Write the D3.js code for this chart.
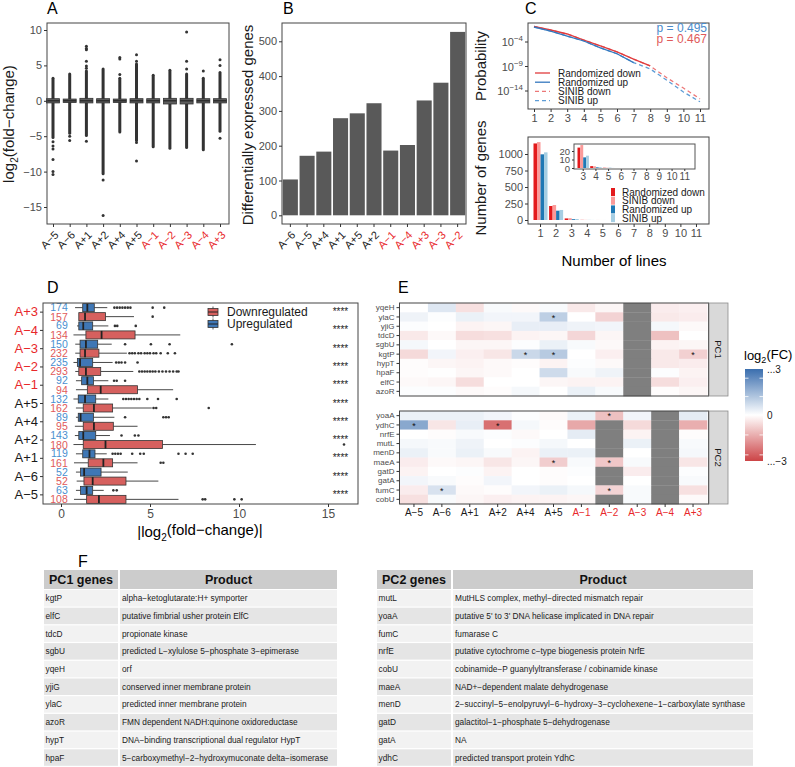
<!DOCTYPE html>
<html><head><meta charset="utf-8">
<script src="https://cdn.jsdelivr.net/npm/d3@7"></script>
<style>
body{margin:0;background:#fff}
svg{display:block}
</style></head><body>
<svg id="fig" width="795" height="767"></svg>
<script>
// ---------------- DATA ----------------
// Panel A
const catsA = ["A−5","A−6","A+1","A+2","A+4","A+5","A−1","A−2","A−3","A−4","A+3"];
const redCats = ["A−1","A−2","A−3","A−4","A+3"];
const aQ1 = [-0.3,-0.25,-0.3,-0.3,-0.25,-0.3,-0.3,-0.45,-0.45,-0.3,-0.3];
const aMed = [0,0,0,0,0,0,0,0,0,0,0];
const aQ3 = [0.3,0.25,0.35,0.3,0.25,0.3,0.3,0.35,0.35,0.3,0.3];
const aUpEnd = [3.2,3.8,4.2,4.5,3.2,5.2,3.6,4.3,3.8,3.2,4.0];
const aDownEnd = [-5.2,-4.6,-4.9,-10.3,-4.4,-5.6,-6.5,-6.7,-6.6,-6.9,-4.3];
const aOutliers = [[-5.8,-6.4,-6.8,-8.3,-10.0,-10.4],[-5.0,-5.6],[4.6,4.9,5.6,7.2,7.4,7.7,-5.7],[-11.2,-16.2],[3.7,5.9,6.1],[5.6,6.5,-5.9,-8.5],[],[],[4.5,5.6,9.7],[4.2],[5.0,5.8,-5.3]];

// Panel B
const catsB = ["A−6","A−5","A+4","A+1","A+5","A+2","A−1","A−4","A+3","A−3","A−2"];
const degCounts = [103,171,183,279,293,322,186,202,330,381,527];

// Panel C
const nLines = [1,2,3,4,5,6,7,8,9,10,11];
const randDownProb = [0.145,0.028,4.3e-3,2.5e-4,1.6e-5,1.0e-6,3.2e-8,1.3e-9];
const randUpProb = [0.115,0.0174,1.6e-3,1.6e-4,6.3e-6,4.0e-7,6.3e-9];
const sinibDownProb = [0.145,0.028,4.3e-3,2.5e-4,1.6e-5,1.0e-6,3.2e-8,1.3e-9,5e-12,4e-14,2.5e-16];
const sinibUpProb = [0.115,0.0174,1.6e-3,1.6e-4,6.3e-6,4.0e-7,6.3e-9,3.2e-10,1.6e-12,6.3e-15,6.3e-17];
const seriesNames = ["Randomized down","SINIB down","Randomized up","SINIB up"];
const randDownCount = [1160,212,24,2.2,0.3,0,0,0,0,0,0];
const sinibDownCount = [1180,227,27,2.0,0.3,0,0,0,0,0,0];
const randUpCount = [995,141,12.5,0.8,0.2,0,0,0,0,0,0];
const sinibUpCount = [1025,152,14.5,0.9,0.1,0,0,0,0,0,0];
const pUp = "p = 0.495", pDown = "p = 0.467";

// Panel D
const catsD = ["A+3","A−4","A−3","A−2","A−1","A+5","A+4","A+2","A+1","A−6","A−5"];
const upCountD = [174,69,150,235,92,132,89,143,119,52,63];
const downCountD = [157,134,232,293,94,162,95,180,161,52,108];
// [low whisker, q1, median, q3, high whisker]
const upStatsD = [[0.79,1.22,1.48,1.87,2.6],[0.9,1.0,1.25,1.78,2.66],[0.8,1.07,1.4,2.06,2.85],[0.7,0.92,1.07,1.78,2.9],[0.84,1.16,1.48,1.82,2.66],[0.7,0.97,1.35,1.95,2.66],[0.84,0.97,1.1,1.82,3.0],[0.78,1.0,1.25,1.95,2.75],[0.84,1.22,1.6,1.91,2.57],[0.84,1.1,1.3,2.25,3.75],[0.84,1.1,1.44,1.78,2.4]];
const upOutD = [[3.0,3.15,3.3,3.45,3.6,3.75,3.9,5.15,5.8],[3.03,3.16,4.2],[3.6,5.05,6.1,9.6],[3.1,3.25,3.4,3.6,4.3],[2.98,3.13,3.6],[3.5,3.65,3.8,3.95,4.1,4.25,4.4,4.85,5.45,6.5],[3.6,5.75,5.9,6.05],[3.4,4.15,4.35],[2.9,3.05,3.2,3.35,4.0,4.45,4.65,6.6,7.0,7.4],[],[2.94,3.13]];
const downStatsD = [[1.0,1.0,1.35,2.5,4.1],[0.7,1.4,2.28,4.16,6.7],[0.8,1.07,1.35,2.13,3.7],[0.8,1.0,1.4,2.23,4.06],[0.84,1.48,2.23,4.3,6.3],[0.84,1.25,1.85,2.9,5.1],[0.78,1.25,1.85,2.94,4.3],[0.7,1.25,2.5,5.7,10.95],[0.73,1.53,2.38,2.9,4.3],[0.88,1.29,1.78,3.65,5.47],[0.73,1.44,2.13,3.65,6.6]];
const downOutD = [[5.15],[],[3.85,4.0,4.15,4.35,4.5,4.7,4.85,5.0,5.2,5.35,5.6,6.0,6.4],[4.4,4.55,4.7,4.85,5.0,5.15,5.3,5.5,5.7,5.9,6.1,6.3,6.5,6.6],[],[5.2,5.35,8.3],[],[15.9],[5.6,5.75],[],[7.96,8.1,9.74,10.15]];
const sigD = ["****","****","****","****","****","****","****","****","****","****","****"];

// Panel E
const pc1Genes = ["yqeH","ylaC","yjiG","tdcD","sgbU","kgtP","hypT","hpaF","elfC","azoR"];
const pc2Genes = ["yoaA","ydhC","nrfE","mutL","menD","maeA","gatD","gatA","fumC","cobU"];
// columns follow catsA order; null = not available
const pc1Values = [
 [0,0.5,-0.5,0.1,-0.1,0.1,-0.35,-0.15,null,-0.3,-0.25],
 [0.25,0.05,0.3,0.2,0.2,1.0,0,-0.7,null,-0.35,-0.3],
 [0.05,0,-0.2,-0.15,0.35,0.35,0.25,0.2,null,0.15,-0.1],
 [-0.35,-0.1,-0.55,-0.5,-0.2,-0.15,-0.65,-0.15,null,-1.0,0],
 [0.15,0,-0.15,-0.15,0.05,0.3,0.1,-0.1,null,-0.2,-0.15],
 [-0.6,0.2,-0.25,-0.4,0.8,1.1,0,-0.25,null,-0.35,-0.75],
 [-0.05,-0.15,-0.2,-0.1,-0.05,-0.2,0.05,-0.1,null,-0.35,-0.3],
 [-0.05,0.02,-0.15,-0.1,0,0.75,0.1,0.25,null,0.05,-0.2],
 [-0.1,-0.15,-0.55,0,0,-0.15,-0.2,-0.2,null,-0.55,-0.25],
 [0.05,0.05,-0.1,-0.05,0.15,0,0.3,0.1,null,-0.05,-0.15]
];
const pc2Values = [
 [0.3,0.3,0.3,0.2,0.05,-0.1,0.3,-1.0,0.2,null,0.4],
 [1.8,-0.4,0.35,-2.3,0.15,-0.05,-1.4,null,-0.6,null,-1.3],
 [0,-0.05,0.1,0.05,-0.1,0,0.4,null,-0.2,null,-0.05],
 [0.15,0.1,0.25,0,0.05,0.15,0,null,0.3,null,0.1],
 [0.3,0.1,0.3,0.1,-0.2,0.3,0.3,null,0,null,0.15],
 [-0.3,-0.1,-0.15,-0.4,-0.15,-0.8,0.1,-0.9,0.1,null,-0.4],
 [-0.2,0,0.05,-0.2,0,-0.05,0.05,null,-0.3,null,0.05],
 [0.2,0.1,-0.05,0.2,0,-0.05,0,null,0,null,0.1],
 [-0.3,0.6,-0.1,-0.05,0.2,0.3,0.15,-0.7,0.1,null,-0.5],
 [-0.5,0.1,-0.15,-0.25,-0.2,-0.2,-0.15,null,0.1,null,-0.1]
];
const pc1Sig = [["ylaC","A+5"],["kgtP","A+4"],["kgtP","A+5"],["kgtP","A+3"]];
const pc2Sig = [["yoaA","A−2"],["ydhC","A−5"],["ydhC","A+2"],["maeA","A+5"],["maeA","A−2"],["fumC","A−6"],["fumC","A−2"]];
const legendLabelsE = [[3,"...3"],[0,"0"],[-3,"...−3"]];

// Panel F
const pc1TableGenes = ["kgtP","elfC","tdcD","sgbU","yqeH","yjiG","ylaC","azoR","hypT","hpaF"];
const pc1Products = ["alpha−ketoglutarate:H+ symporter","putative fimbrial usher protein ElfC","propionate kinase","predicted L−xylulose 5−phosphate 3−epimerase","orf","conserved inner membrane protein","predicted inner membrane protein","FMN dependent NADH:quinone oxidoreductase","DNA−binding transcriptional dual regulator HypT","5−carboxymethyl−2−hydroxymuconate delta−isomerase"];
const pc2TableGenes = ["mutL","yoaA","fumC","nrfE","cobU","maeA","menD","gatD","gatA","ydhC"];
const pc2Products = ["MutHLS complex, methyl−directed mismatch repair","putative 5' to 3' DNA helicase implicated in DNA repair","fumarase C","putative cytochrome c−type biogenesis protein NrfE","cobinamide−P guanylyltransferase / cobinamide kinase","NAD+−dependent malate dehydrogenase","2−succinyl−5−enolpyruvyl−6−hydroxy−3−cyclohexene−1−carboxylate synthase","galactitol−1−phosphate 5−dehydrogenase","NA","predicted transport protein YdhC"];

// ---------------- DRAWING ----------------
const FONT = '"Liberation Sans", Arial, Helvetica, sans-serif';
const RED_TXT = "#E8282B", TICK_TXT = "#4D4D4D", FRAME = "#444";
const svg = d3.select("#fig").attr("font-family", FONT);
svg.append("rect").attr("width",795).attr("height",767).attr("fill","#fff");

function addText(parent, x, y, s, size, o = {}) {
  const t = parent.append("text").attr("x", x).attr("y", y).attr("font-size", size)
    .attr("fill", o.fill || "#1A1A1A").attr("text-anchor", o.anchor || "start").text(s);
  if (o.weight) t.attr("font-weight", o.weight);
  if (o.rotate !== undefined) t.attr("transform", `rotate(${o.rotate},${x},${y})`);
  return t;
}
function styleAxis(g, size, fill) {
  g.attr("font-family", FONT).attr("font-size", size);
  g.select(".domain").remove();
  g.selectAll(".tick line").attr("stroke", "#333");
  g.selectAll(".tick text").attr("fill", fill || TICK_TXT);
  return g;
}
function frame(x0, y0, x1, y1, stroke) {
  svg.append("rect").attr("x", x0).attr("y", y0).attr("width", x1 - x0).attr("height", y1 - y0)
    .attr("fill", "none").attr("stroke", stroke || FRAME).attr("stroke-width", 1);
}
function catColor(c) { return redCats.includes(c) ? RED_TXT : "#1A1A1A"; }
function rotLabels(ax) {
  ax.selectAll(".tick text").attr("x", 0).attr("y", 0).attr("dy", "0.35em")
    .attr("text-anchor", "end").attr("transform", "translate(3,9) rotate(-45)")
    .attr("fill", d => catColor(d));
}

// panel letters
[["A",47,14],["B",283,14],["C",525,14],["D",47,293],["E",398,293],["F",78,567]].forEach(([s,x,y]) => addText(svg, x, y, s, 16, {fill:"#000"}));

// ---- Panel A ----
const xA = d3.scalePoint().domain(catsA).range([53, 220]);
const yA = d3.scaleLinear().domain([-15, 10]).range([207, 30]);
const gA = svg.append("g");
catsA.forEach((c, i) => {
  const x = xA(c);
  gA.append("line").attr("x1", x).attr("x2", x).attr("y1", yA(aQ3[i])).attr("y2", yA(aUpEnd[i]))
    .attr("stroke", "#333").attr("stroke-width", 3).attr("stroke-linecap", "round");
  gA.append("line").attr("x1", x).attr("x2", x).attr("y1", yA(aQ1[i])).attr("y2", yA(aDownEnd[i]))
    .attr("stroke", "#333").attr("stroke-width", 3).attr("stroke-linecap", "round");
  gA.append("rect").attr("x", x - 6.5).attr("width", 13).attr("y", yA(aQ3[i])).attr("height", yA(aQ1[i]) - yA(aQ3[i]))
    .attr("fill", "#5E5E5E").attr("stroke", "#333").attr("stroke-width", 0.8);
  gA.append("line").attr("x1", x - 6.5).attr("x2", x + 6.5).attr("y1", yA(aMed[i])).attr("y2", yA(aMed[i])).attr("stroke", "#222").attr("stroke-width", 1.2);
  aOutliers[i].forEach(v => gA.append("circle").attr("cx", x).attr("cy", yA(v)).attr("r", 1.5).attr("fill", "#333"));
});
frame(47, 23, 229, 224);
styleAxis(svg.append("g").attr("transform", "translate(47,0)")
  .call(d3.axisLeft(yA).tickValues([-15,-10,-5,0,5,10]).tickSize(3).tickPadding(2)), 11);
rotLabels(styleAxis(svg.append("g").attr("transform", "translate(0,224)").call(d3.axisBottom(xA).tickSize(3)), 11));
{
  const t = addText(svg, 14, 124, "", 15, {anchor:"middle", rotate:-90});
  t.append("tspan").text("log");
  t.append("tspan").attr("font-size", 10).attr("dy", "0.35em").text("2");
  t.append("tspan").attr("dy", "-0.25em").text("(fold−change)");
}

// ---- Panel B ----
const xB = d3.scaleBand().domain(catsB).range([282, 466]).paddingInner(0.1).paddingOuter(0.05);
const yB = d3.scaleLinear().domain([0, 500]).range([215.3, 41.3]);
svg.append("g").selectAll("rect").data(catsB).join("rect")
  .attr("x", d => xB(d)).attr("width", xB.bandwidth())
  .attr("y", (d, i) => yB(degCounts[i])).attr("height", (d, i) => yB(0) - yB(degCounts[i]))
  .attr("fill", "#595959");
frame(282, 23, 466, 224);
styleAxis(svg.append("g").attr("transform", "translate(282,0)")
  .call(d3.axisLeft(yB).tickValues([0,100,200,300,400,500]).tickSize(3).tickPadding(2)), 11);
rotLabels(styleAxis(svg.append("g").attr("transform", "translate(0,224)").call(d3.axisBottom(xB).tickSize(3)), 11));
addText(svg, 253, 125, "Differentially expressed genes", 15, {anchor:"middle", rotate:-90});

// ---- Panel C top ----
const cRedS = "#E03B3D", cBlueS = "#3478BE", cRedD = "#EC7777", cBlueD = "#5E9DD6";
const xC = d3.scaleLinear().domain([1, 11]).range([534, 700]);
const yC = d3.scaleLog().domain([1e-4, 1e-14]).range([42, 91]);
svg.append("clipPath").attr("id", "clipC").append("rect").attr("x", 528).attr("y", 23).attr("width", 181).attr("height", 86);
const gC = svg.append("g").attr("clip-path", "url(#clipC)");
const lineC = d3.line().x(d => xC(d[0])).y(d => yC(d[1]));
const mk = arr => arr.map((v, i) => [nLines[i], v]);
gC.append("path").attr("d", lineC(mk(sinibDownProb))).attr("fill", "none").attr("stroke", cRedD).attr("stroke-width", 1.3).attr("stroke-dasharray", "4,3");
gC.append("path").attr("d", lineC(mk(sinibUpProb))).attr("fill", "none").attr("stroke", cBlueD).attr("stroke-width", 1.3).attr("stroke-dasharray", "4,3");
gC.append("path").attr("d", lineC(mk(randDownProb))).attr("fill", "none").attr("stroke", cRedS).attr("stroke-width", 1.3);
gC.append("path").attr("d", lineC(mk(randUpProb))).attr("fill", "none").attr("stroke", cBlueS).attr("stroke-width", 1.3);
frame(528, 23, 709, 109);
styleAxis(svg.append("g").attr("transform", "translate(0,109)").call(d3.axisBottom(xC).tickValues(nLines).tickSize(3).tickPadding(2)), 11);
[1e-4, 1e-9, 1e-14].forEach(v => {
  const y = yC(v);
  svg.append("line").attr("x1", 525).attr("x2", 528).attr("y1", y).attr("y2", y).attr("stroke", "#333");
  const t = addText(svg, 523, y + 4, "", 11, {anchor:"end", fill:TICK_TXT});
  t.append("tspan").text("10");
  t.append("tspan").attr("font-size", 8).attr("dy", "-0.6em").text("−" + Math.round(-Math.log10(v)));
});
addText(svg, 707, 32, pUp, 12, {anchor:"end", fill:"#4A8BCB"});
addText(svg, 707, 43, pDown, 12, {anchor:"end", fill:"#E05A5A"});
[["Randomized down", cRedS, null], ["Randomized up", cBlueS, null], ["SINIB down", cRedD, "4,3"], ["SINIB up", cBlueD, "4,3"]].forEach(([s, col, dash], i) => {
  const y = 73 + i * 9.2;
  const l = svg.append("line").attr("x1", 535).attr("x2", 550).attr("y1", y).attr("y2", y).attr("stroke", col).attr("stroke-width", 1.3);
  if (dash) l.attr("stroke-dasharray", dash);
  addText(svg, 558, y + 3.5, s, 10, {fill:"#1A1A1A"});
});
addText(svg, 486, 66, "Probability", 15, {anchor:"middle", rotate:-90});

// ---- Panel C bottom ----
const barCols = ["#E31A1C", "#FB9A99", "#1F78B4", "#A6CEE3"];
const countSeries = [randDownCount, sinibDownCount, randUpCount, sinibUpCount];
const xCb = d3.scaleBand().domain(nLines).range([533.5, 703.5]).paddingInner(0.1);
const subCb = d3.scaleBand().domain(seriesNames).range([0, xCb.bandwidth()]);
const yCb = d3.scaleLinear().domain([0, 1000]).range([220, 154]);
seriesNames.forEach((s, k) => {
  svg.append("g").selectAll("rect").data(nLines).join("rect")
    .attr("x", d => xCb(d) + subCb(s)).attr("width", subCb.bandwidth())
    .attr("y", (d, i) => yCb(countSeries[k][i])).attr("height", (d, i) => yCb(0) - yCb(countSeries[k][i]))
    .attr("fill", barCols[k]);
});
frame(528, 137, 709, 224);
styleAxis(svg.append("g").attr("transform", "translate(528,0)").call(d3.axisLeft(yCb).tickValues([0,250,500,750,1000]).tickFormat(d3.format("d")).tickSize(3).tickPadding(2)), 11);
styleAxis(svg.append("g").attr("transform", "translate(0,224)").call(d3.axisBottom(xCb).tickSize(3).tickPadding(2)), 11);
addText(svg, 486, 178, "Number of genes", 15, {anchor:"middle", rotate:-90});
addText(svg, 614, 266, "Number of lines", 15, {anchor:"middle", fill:"#000"});
// inset
const insetCats = nLines.filter(d => d >= 3);
const xIn = d3.scaleBand().domain(insetCats).range([577.5, 690.5]).paddingInner(0.1);
const subIn = d3.scaleBand().domain(seriesNames).range([0, xIn.bandwidth()]);
const yIn = d3.scaleLinear().domain([0, 20]).range([168, 151]);
svg.append("rect").attr("x", 574).attr("y", 144).attr("width", 121).attr("height", 25).attr("fill", "#fff");
svg.append("clipPath").attr("id", "clipIn").append("rect").attr("x", 574).attr("y", 144).attr("width", 121).attr("height", 25);
const gIn = svg.append("g").attr("clip-path", "url(#clipIn)");
seriesNames.forEach((s, k) => {
  gIn.append("g").selectAll("rect").data(insetCats).join("rect")
    .attr("x", d => xIn(d) + subIn(s)).attr("width", subIn.bandwidth())
    .attr("y", d => yIn(countSeries[k][d - 1])).attr("height", d => yIn(0) - yIn(countSeries[k][d - 1]))
    .attr("fill", barCols[k]);
});
frame(574, 144, 695, 169, "#555");
styleAxis(svg.append("g").attr("transform", "translate(574,0)").call(d3.axisLeft(yIn).tickValues([0,10,20]).tickSize(2).tickPadding(2)), 9.5);
styleAxis(svg.append("g").attr("transform", "translate(0,169)").call(d3.axisBottom(xIn).tickSize(2).tickPadding(2)), 10);
seriesNames.forEach((s, k) => {
  const y = 192 + k * 8.7;
  svg.append("rect").attr("x", 611).attr("y", y - 4).attr("width", 4).attr("height", 8).attr("fill", barCols[k]);
  addText(svg, 622, y + 3.5, s, 10, {fill:"#1A1A1A"});
});

// ---- Panel D ----
const upFill = "#3F77B5", downFill = "#D6605E";
const xD = d3.scaleLinear().domain([0, 15]).range([61, 328]);
const yD = d3.scaleBand().domain(catsD).range([303, 504]);
const gD = svg.append("g");
function hbox(stats, outs, yc, fill) {
  const [lo, q1, md, q3, hi] = stats;
  gD.append("line").attr("x1", xD(lo)).attr("x2", xD(q1)).attr("y1", yc).attr("y2", yc).attr("stroke", "#333").attr("stroke-width", 0.9);
  gD.append("line").attr("x1", xD(q3)).attr("x2", xD(hi)).attr("y1", yc).attr("y2", yc).attr("stroke", "#333").attr("stroke-width", 0.9);
  gD.append("rect").attr("x", xD(q1)).attr("width", Math.max(1, xD(q3) - xD(q1))).attr("y", yc - 4).attr("height", 8)
    .attr("fill", fill).attr("stroke", "#333").attr("stroke-width", 0.8);
  gD.append("line").attr("x1", xD(md)).attr("x2", xD(md)).attr("y1", yc - 4).attr("y2", yc + 4).attr("stroke", "#222").attr("stroke-width", 1.8);
  outs.forEach(v => gD.append("circle").attr("cx", xD(v)).attr("cy", yc).attr("r", 1.3).attr("fill", "#333"));
}
catsD.forEach((c, i) => {
  const yc = yD(c) + yD.bandwidth() / 2;
  hbox(upStatsD[i], upOutD[i], yc - 4.5, upFill);
  hbox(downStatsD[i], downOutD[i], yc + 4.5, downFill);
  addText(gD, xD(0.38), yc - 1, String(upCountD[i]), 10.5, {anchor:"end", fill:"#4A8FD0"});
  addText(gD, xD(0.38), yc + 8.5, String(downCountD[i]), 10.5, {anchor:"end", fill:"#E05A5A"});
  addText(gD, xD(15.7), yc + 3, sigD[i], 10, {anchor:"middle", fill:"#222"});
});
frame(43, 303, 358, 504);
const axDy = styleAxis(svg.append("g").attr("transform", "translate(43,0)").call(d3.axisLeft(yD).tickSize(3).tickPadding(2)), 13);
axDy.selectAll(".tick text").attr("fill", d => catColor(d));
styleAxis(svg.append("g").attr("transform", "translate(0,504)").call(d3.axisBottom(xD).tickValues([0,5,10,15]).tickSize(3).tickPadding(2)), 12);
{
  const t = addText(svg, 200, 537, "", 15, {anchor:"middle", fill:"#000"});
  t.append("tspan").text("|log");
  t.append("tspan").attr("font-size", 10).attr("dy", "0.35em").text("2");
  t.append("tspan").attr("dy", "-0.35em").text("(fold−change)|");
}
[["Downregulated", downFill], ["Upregulated", upFill]].forEach(([s, col], i) => {
  const y = 312 + i * 12;
  svg.append("line").attr("x1", 213).attr("x2", 213).attr("y1", y - 5.5).attr("y2", y + 5.5).attr("stroke", "#333").attr("stroke-width", 0.8);
  svg.append("rect").attr("x", 208).attr("y", y - 3.5).attr("width", 10).attr("height", 7).attr("fill", col).attr("stroke", "#333").attr("stroke-width", 0.8);
  svg.append("line").attr("x1", 208).attr("x2", 218).attr("y1", y).attr("y2", y).attr("stroke", "#222").attr("stroke-width", 1);
  addText(svg, 227, y + 4.2, s, 12, {fill:"#1A1A1A"});
});

// ---- Panel E ----
const xE = d3.scaleBand().domain(catsA).range([400, 707]);
const colE = d3.scaleLinear().domain([-3, 0, 3]).range(["#CC4446", "#FFFFFF", "#3A6EAE"]).clamp(true);
function heat(genes, values, sig, y0, y1, strip) {
  const yE = d3.scaleBand().domain(genes).range([y0, y1]);
  const g = svg.append("g");
  genes.forEach((gn, r) => catsA.forEach((c, k) => {
    const v = values[r][k];
    g.append("rect").attr("x", xE(c)).attr("y", yE(gn)).attr("width", xE.bandwidth() + 0.3).attr("height", yE.bandwidth() + 0.3)
      .attr("fill", v === null ? "#7F7F7F" : colE(v));
  }));
  sig.forEach(([gn, c]) => addText(g, xE(c) + xE.bandwidth() / 2, yE(gn) + yE.bandwidth() / 2 + 3.8, "*", 9, {anchor:"middle", fill:"#111"}));
  frame(399.5, y0, 708.5, y1);
  svg.append("rect").attr("x", 709).attr("y", y0).attr("width", 19).attr("height", y1 - y0).attr("fill", "#D9D9D9").attr("stroke", "#8C8C8C").attr("stroke-width", 0.8);
  addText(svg, 714.5, (y0 + y1) / 2, strip, 9.5, {anchor:"middle", rotate:90, fill:"#1A1A1A"});
  styleAxis(svg.append("g").attr("transform", "translate(399.5,0)").call(d3.axisLeft(yE).tickSize(3).tickPadding(2)), 8);
}
heat(pc1Genes, pc1Values, pc1Sig, 303, 396, "PC1");
heat(pc2Genes, pc2Values, pc2Sig, 411, 504, "PC2");
const axEx = styleAxis(svg.append("g").attr("transform", "translate(0,504)").call(d3.axisBottom(xE).tickSize(3).tickPadding(2)), 10);
axEx.selectAll(".tick text").attr("fill", d => catColor(d));
// legend
{
  const t = addText(svg, 744, 360, "", 13, {fill:"#000"});
  t.append("tspan").text("log");
  t.append("tspan").attr("font-size", 9).attr("dy", "0.35em").text("2");
  t.append("tspan").attr("dy", "-0.35em").text("(FC)");
  const yLeg = d3.scaleLinear().domain([3, -3]).range([369, 461]);
  const grad = svg.append("defs").append("linearGradient").attr("id", "gradE").attr("x1", 0).attr("x2", 0).attr("y1", 0).attr("y2", 1);
  d3.range(0, 13).forEach(j => {
    const v = 3 - j * 0.5;
    grad.append("stop").attr("offset", (j / 12)).attr("stop-color", colE(v));
  });
  svg.append("rect").attr("x", 745).attr("y", yLeg(3)).attr("width", 18).attr("height", yLeg(-3) - yLeg(3)).attr("fill", "url(#gradE)");
  [2.4, 1.2, 0, -1.3, -2.6].forEach(v => {
    svg.append("line").attr("x1", 745).attr("x2", 748.5).attr("y1", yLeg(v)).attr("y2", yLeg(v)).attr("stroke", "#fff").attr("stroke-width", 0.8);
    svg.append("line").attr("x1", 759.5).attr("x2", 763).attr("y1", yLeg(v)).attr("y2", yLeg(v)).attr("stroke", "#fff").attr("stroke-width", 0.8);
  });
  legendLabelsE.forEach(([v, s]) => addText(svg, 767, yLeg(v) + 3.5, s, 10, {fill:"#1A1A1A"}));
}

// ---- Panel F tables ----
function drawTable(x0, w1, w2, head1, genes, products) {
  const g = svg.append("g");
  const rowY = d3.scaleBand().domain(d3.range(genes.length)).range([590, 767]);
  g.append("rect").attr("x", x0).attr("y", 570).attr("width", w1).attr("height", 19).attr("fill", "#CCCCCC");
  g.append("rect").attr("x", x0 + w1 + 2).attr("y", 570).attr("width", w2).attr("height", 19).attr("fill", "#CCCCCC");
  addText(g, x0 + w1 / 2, 584, head1, 12.5, {anchor:"middle", weight:"bold", fill:"#111"});
  addText(g, x0 + w1 + 2 + w2 / 2, 584, "Product", 12.5, {anchor:"middle", weight:"bold", fill:"#111"});
  genes.forEach((gn, i) => {
    const y = rowY(i), h = rowY.bandwidth() - 1.2;
    const f = i % 2 === 0 ? "#F2F2F2" : "#E5E5E5";
    g.append("rect").attr("x", x0).attr("y", y).attr("width", w1).attr("height", h).attr("fill", f);
    g.append("rect").attr("x", x0 + w1 + 2).attr("y", y).attr("width", w2).attr("height", h).attr("fill", f);
    addText(g, x0 + 1.5, y + h / 2 + 3, gn, 8.3, {fill:"#1A1A1A"});
    const pt = addText(g, x0 + w1 + 4, y + h / 2 + 3, products[i], 8.3, {fill:"#1A1A1A"});
    const maxW = w2 - 10;
    if (pt.node().getComputedTextLength() > maxW) pt.attr("textLength", maxW).attr("lengthAdjust", "spacingAndGlyphs");
  });
}
drawTable(44, 74, 217, "PC1 genes", pc1TableGenes, pc1Products);
drawTable(377, 74, 300, "PC2 genes", pc2TableGenes, pc2Products);
</script></body></html>
